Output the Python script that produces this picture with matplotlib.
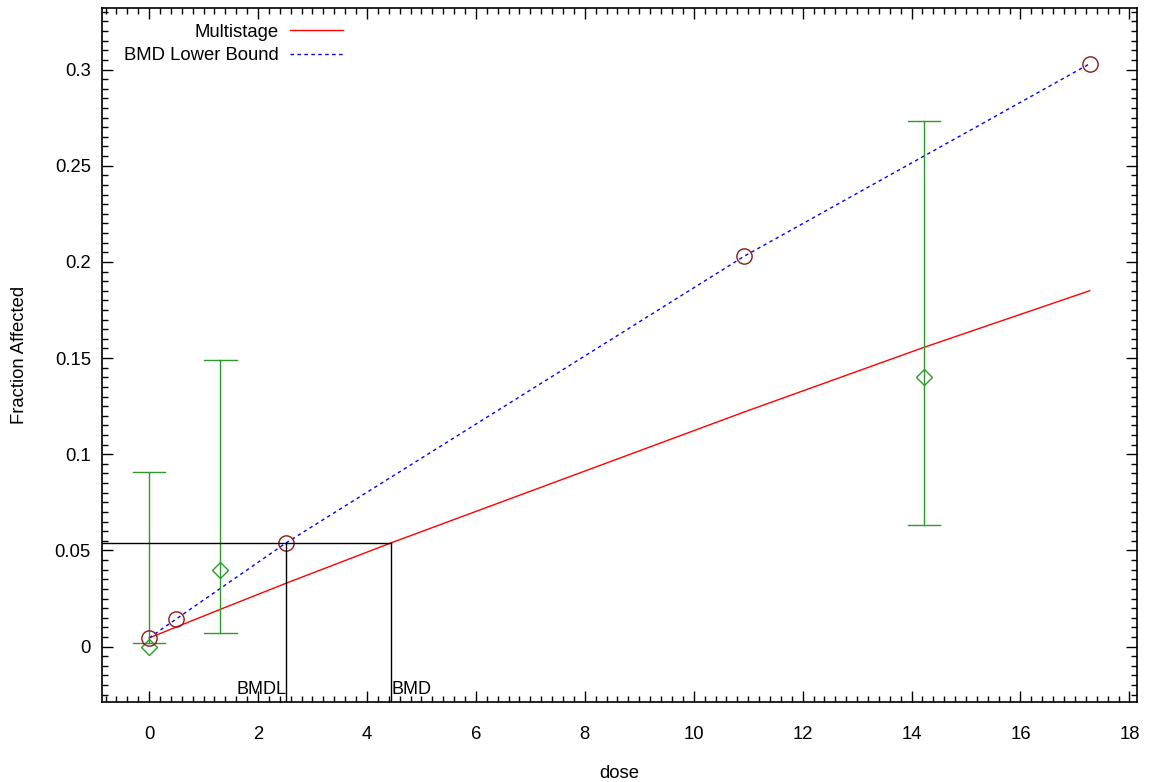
import matplotlib
matplotlib.use("Agg")
import matplotlib.pyplot as plt
from matplotlib.ticker import MultipleLocator

plt.rcParams['font.family'] = ['Liberation Sans', 'DejaVu Sans']

# Observed data (green diamonds with confidence bars)
obs_dose = [0.0, 1.31, 14.23]
obs_frac = [0.0, 0.040, 0.140]
obs_lower = [0.002, 0.007, 0.063]
obs_upper = [0.091, 0.149, 0.273]

# Points marked with circles (on the lower-bound curve)
fit_dose = [0.0, 0.50, 2.52, 10.93, 17.27]
fit_frac = [0.0045, 0.0144, 0.054, 0.203, 0.303]

# Multistage model curve
ms_dose = [0.0, 1.31, 2.52, 4.45, 10.93, 14.23, 17.27]
ms_frac = [0.0045, 0.0194, 0.033, 0.054, 0.122, 0.1556, 0.185]

# BMD lower bound curve
bl_dose = [0.0, 0.50, 2.52, 10.93, 17.27]
bl_frac = [0.0045, 0.0144, 0.054, 0.203, 0.303]

bmr = 0.054
bmd = 4.45
bmdl = 2.52

fig = plt.figure(figsize=(11.49, 7.82), dpi=100)
ax = fig.add_axes([0.0888, 0.1023, 0.9008, 0.8875])

ax.set_xlim(-0.864, 18.14)
ax.set_ylim(-0.0288, 0.332)

ax.plot(ms_dose, ms_frac, color='red', lw=1.0, label='Multistage')
ax.plot(bl_dose, bl_frac, color='blue', lw=1.0, linestyle=(0, (2.5, 2.5)), label='BMD Lower Bound')

# error bars
for d, lo, hi in zip(obs_dose, obs_lower, obs_upper):
    ax.plot([d, d], [lo, hi], color='#2e9a2e', lw=1.0)
    ax.plot([d - 0.3, d + 0.3], [lo, lo], color='#2e9a2e', lw=1.0)
    ax.plot([d - 0.3, d + 0.3], [hi, hi], color='#2e9a2e', lw=1.0)
ax.plot(obs_dose, obs_frac, linestyle='none', marker='D', markersize=8,
        markerfacecolor='none', markeredgecolor='#2e9a2e', markeredgewidth=1.0)

ax.plot(fit_dose, fit_frac, linestyle='none', marker='o', markersize=11,
        markerfacecolor='none', markeredgecolor='#8b1a1a', markeredgewidth=1.0)

# BMD / BMDL lines
ymin = ax.get_ylim()[0]
xmin = ax.get_xlim()[0]
ax.plot([xmin, bmd], [bmr, bmr], color='black', lw=1.0)
ax.plot([bmdl, bmdl], [ymin, bmr], color='black', lw=1.0)
ax.plot([bmd, bmd], [ymin, bmr], color='black', lw=1.0)
ax.text(bmdl, ymin + 0.002, 'BMDL', ha='right', va='bottom', fontsize=13)
ax.text(bmd, ymin + 0.002, 'BMD', ha='left', va='bottom', fontsize=13)

ax.xaxis.set_major_locator(MultipleLocator(2))
ax.xaxis.set_minor_locator(MultipleLocator(0.2))
ax.yaxis.set_major_locator(MultipleLocator(0.05))
ax.yaxis.set_minor_locator(MultipleLocator(0.005))
ax.yaxis.set_major_formatter(matplotlib.ticker.FuncFormatter(lambda v, p: ('%g' % round(v, 3))))

ax.tick_params(which='both', direction='in', top=True, right=True, labelsize=13.3)
ax.tick_params(axis='x', which='both', pad=17)
ax.tick_params(axis='y', which='both', pad=8)
ax.tick_params(which='major', length=8, width=1)
ax.tick_params(which='minor', length=4, width=1)
for s in ax.spines.values():
    s.set_linewidth(1.2)

ax.set_xlabel('dose', fontsize=13.3, labelpad=16)
ax.set_ylabel('Fraction Affected', fontsize=13.3, labelpad=19)

leg = ax.legend(loc='upper left', bbox_to_anchor=(0.0087, 0.9957), frameon=False, fontsize=13.3,
                markerfirst=False, handlelength=2.9, handletextpad=0.6, labelspacing=0.33,
                borderaxespad=0.3)

fig.savefig('out.png', dpi=100)
